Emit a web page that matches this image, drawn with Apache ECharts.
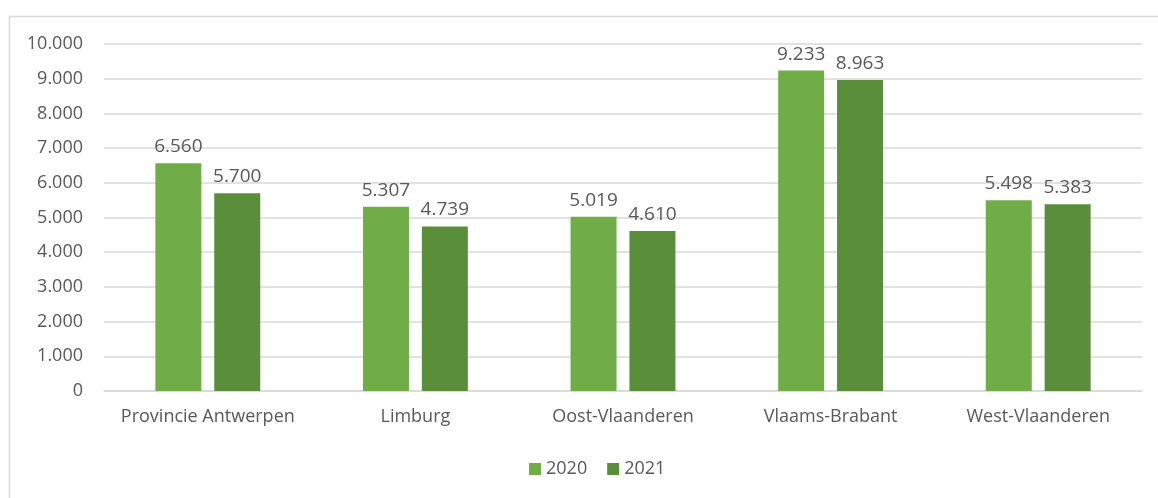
<!DOCTYPE html>
<html>
<head>
<meta charset="utf-8">
<script src="https://cdn.jsdelivr.net/npm/echarts@6/dist/echarts.min.js"></script>
<style>
  html, body { margin: 0; padding: 0; background: #fff; }
  #chart { width: 1158px; height: 498px; }
</style>
</head>
<body>
<div id="chart"></div>
<script>
const provinces = ["Provincie Antwerpen", "Limburg", "Oost-Vlaanderen", "Vlaams-Brabant", "West-Vlaanderen"];
const values2020 = [6560, 5307, 5019, 9233, 5498];
const values2021 = [5700, 4739, 4610, 8963, 5383];
const seriesNames = ["2020", "2021"];

// 1.000 style: dot as thousands separator
function fmt(v) {
  return String(v).replace(/\B(?=(\d{3})+(?!\d))/g, ".");
}

const textColor = "#595959";
const fontFamily = "Open Sans, sans-serif";

let myChart = echarts.init(document.getElementById("chart"));

let option = {
  animation: false,
  textStyle: { fontFamily: fontFamily, color: textColor },
  graphic: [
    {
      type: "rect",
      left: 7,
      top: 14,
      shape: { width: 1160, height: 500 },
      style: { fill: "none", stroke: "#d9d9d9", lineWidth: 1.5 }
    }
  ],
  grid: {
    left: 104,
    right: 16,
    top: 44,
    bottom: 107
  },
  legend: {
    data: seriesNames,
    bottom: 15,
    left: 524,
    itemWidth: 12,
    itemHeight: 12,
    itemGap: 20,
    icon: "rect",
    textStyle: { color: textColor, fontSize: 18, fontFamily: fontFamily }
  },
  xAxis: {
    type: "category",
    data: provinces,
    axisLine: { lineStyle: { color: "#d9d9d9", width: 1.5 } },
    axisTick: { show: false },
    axisLabel: { interval: 0, color: textColor, fontSize: 18, margin: 17, fontFamily: fontFamily }
  },
  yAxis: {
    type: "value",
    min: 0,
    max: 10000,
    interval: 1000,
    axisLine: { show: false },
    axisTick: { show: false },
    splitLine: { lineStyle: { color: "#d9d9d9", width: 1.5 } },
    axisLabel: {
      color: textColor,
      fontSize: 18,
      margin: 21,
      fontFamily: fontFamily,
      formatter: v => fmt(v)
    }
  },
  series: [
    {
      name: "2020",
      type: "bar",
      barWidth: 46,
      barGap: "28%",
      itemStyle: { color: "#70AD47" },
      label: {
        show: true,
        position: "top",
        distance: 7,
        color: textColor,
        fontSize: 19,
        fontFamily: fontFamily,
        formatter: p => fmt(p.value)
      },
      data: values2020
    },
    {
      name: "2021",
      type: "bar",
      barWidth: 46,
      itemStyle: { color: "#5A8E3A" },
      label: {
        show: true,
        position: "top",
        distance: 7,
        color: textColor,
        fontSize: 19,
        fontFamily: fontFamily,
        formatter: p => fmt(p.value)
      },
      data: values2021
    }
  ]
};
myChart.setOption(option);
</script>
</body>
</html>
